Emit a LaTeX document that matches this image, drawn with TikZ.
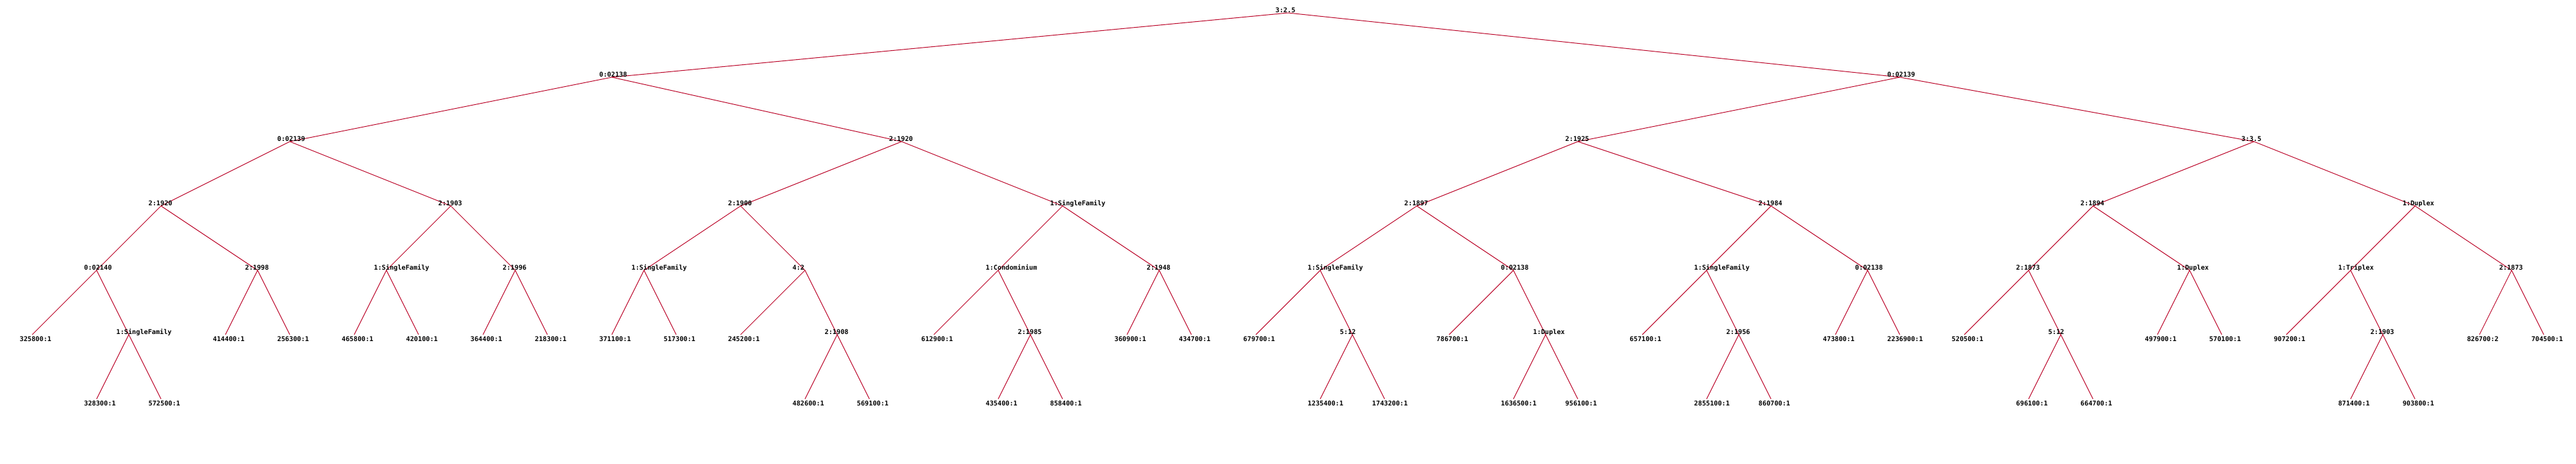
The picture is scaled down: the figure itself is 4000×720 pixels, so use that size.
\documentclass[tikz,border=0pt]{standalone}
\usepackage{fontspec}
\setmonofont{DejaVu Sans Mono}

\definecolor{branchred}{RGB}{185,0,36}
\def\treefont{\ttfamily\bfseries\fontsize{2.9pt}{3pt}\selectfont}

\tikzset{
    branch/.style={draw=branchred, line width=0.1mm},
    splitlabel/.style={anchor=base west, inner sep=0pt, xshift=-2mm, yshift=0.05mm, font=\treefont},
    leaflabel/.style={anchor=north west, inner sep=0pt, xshift=-2mm, yshift=-0.2mm, font=\treefont},
}

\begin{document}
\begin{tikzpicture}[x=0.1mm, y=-0.1mm]

    \useasboundingbox (0,0) rectangle (4000,720);

    % split points
    \coordinate (t) at (2000,20);
    \coordinate (tl) at (950,120);    \coordinate (tr) at (2950,120);
    \coordinate (tll) at (450,220);   \coordinate (tlr) at (1400,220);
    \coordinate (trl) at (2450,220);  \coordinate (trr) at (3500,220);
    \coordinate (tlll) at (250,320);  \coordinate (tllr) at (700,320);
    \coordinate (tlrl) at (1150,320); \coordinate (tlrr) at (1650,320);
    \coordinate (trll) at (2200,320); \coordinate (trlr) at (2750,320);
    \coordinate (trrl) at (3250,320); \coordinate (trrr) at (3750,320);
    \coordinate (tllll) at (150,420);  \coordinate (tlllr) at (400,420);
    \coordinate (tllrl) at (600,420);  \coordinate (tllrr) at (800,420);
    \coordinate (tlrll) at (1000,420); \coordinate (tlrlr) at (1250,420);
    \coordinate (tlrrl) at (1550,420); \coordinate (tlrrr) at (1800,420);
    \coordinate (trlll) at (2050,420); \coordinate (trllr) at (2350,420);
    \coordinate (trlrl) at (2650,420); \coordinate (trlrr) at (2900,420);
    \coordinate (trrll) at (3150,420); \coordinate (trrlr) at (3400,420);
    \coordinate (trrrl) at (3650,420); \coordinate (trrrr) at (3900,420);
    \coordinate (tllllr) at (200,520);  \coordinate (tlrlrr) at (1300,520);
    \coordinate (tlrrlr) at (1600,520); \coordinate (trlllr) at (2100,520);
    \coordinate (trllrr) at (2400,520); \coordinate (trlrlr) at (2700,520);
    \coordinate (trrllr) at (3200,520); \coordinate (trrrlr) at (3700,520);

    % leaves
    \coordinate (tlllll) at (50,520);    \coordinate (tllllrl) at (150,620);  \coordinate (tllllrr) at (250,620);
    \coordinate (tlllrl) at (350,520);   \coordinate (tlllrr) at (450,520);
    \coordinate (tllrll) at (550,520);   \coordinate (tllrlr) at (650,520);
    \coordinate (tllrrl) at (750,520);   \coordinate (tllrrr) at (850,520);
    \coordinate (tlrlll) at (950,520);   \coordinate (tlrllr) at (1050,520);
    \coordinate (tlrlrl) at (1150,520);  \coordinate (tlrlrrl) at (1250,620); \coordinate (tlrlrrr) at (1350,620);
    \coordinate (tlrrll) at (1450,520);  \coordinate (tlrrlrl) at (1550,620); \coordinate (tlrrlrr) at (1650,620);
    \coordinate (tlrrrl) at (1750,520);  \coordinate (tlrrrr) at (1850,520);
    \coordinate (trllll) at (1950,520);  \coordinate (trlllrl) at (2050,620); \coordinate (trlllrr) at (2150,620);
    \coordinate (trllrl) at (2250,520);  \coordinate (trllrrl) at (2350,620); \coordinate (trllrrr) at (2450,620);
    \coordinate (trlrll) at (2550,520);  \coordinate (trlrlrl) at (2650,620); \coordinate (trlrlrr) at (2750,620);
    \coordinate (trlrrl) at (2850,520);  \coordinate (trlrrr) at (2950,520);
    \coordinate (trrlll) at (3050,520);  \coordinate (trrllrl) at (3150,620); \coordinate (trrllrr) at (3250,620);
    \coordinate (trrlrl) at (3350,520);  \coordinate (trrlrr) at (3450,520);
    \coordinate (trrrll) at (3550,520);  \coordinate (trrrlrl) at (3650,620); \coordinate (trrrlrr) at (3750,620);
    \coordinate (trrrrl) at (3850,520);  \coordinate (trrrrr) at (3950,520);

    % branches
    \draw[branch] (t) -- (tl) (t) -- (tr);
    \draw[branch] (tl) -- (tll) (tl) -- (tlr) (tr) -- (trl) (tr) -- (trr);
    \draw[branch] (tll) -- (tlll) (tll) -- (tllr) (tlr) -- (tlrl) (tlr) -- (tlrr);
    \draw[branch] (trl) -- (trll) (trl) -- (trlr) (trr) -- (trrl) (trr) -- (trrr);
    \draw[branch] (tlll) -- (tllll) (tlll) -- (tlllr) (tllr) -- (tllrl) (tllr) -- (tllrr);
    \draw[branch] (tlrl) -- (tlrll) (tlrl) -- (tlrlr) (tlrr) -- (tlrrl) (tlrr) -- (tlrrr);
    \draw[branch] (trll) -- (trlll) (trll) -- (trllr) (trlr) -- (trlrl) (trlr) -- (trlrr);
    \draw[branch] (trrl) -- (trrll) (trrl) -- (trrlr) (trrr) -- (trrrl) (trrr) -- (trrrr);
    \draw[branch] (tllll) -- (tlllll) (tllll) -- (tllllr) (tllllr) -- (tllllrl) (tllllr) -- (tllllrr);
    \draw[branch] (tlllr) -- (tlllrl) (tlllr) -- (tlllrr) (tllrl) -- (tllrll) (tllrl) -- (tllrlr);
    \draw[branch] (tllrr) -- (tllrrl) (tllrr) -- (tllrrr) (tlrll) -- (tlrlll) (tlrll) -- (tlrllr);
    \draw[branch] (tlrlr) -- (tlrlrl) (tlrlr) -- (tlrlrr) (tlrlrr) -- (tlrlrrl) (tlrlrr) -- (tlrlrrr);
    \draw[branch] (tlrrl) -- (tlrrll) (tlrrl) -- (tlrrlr) (tlrrlr) -- (tlrrlrl) (tlrrlr) -- (tlrrlrr);
    \draw[branch] (tlrrr) -- (tlrrrl) (tlrrr) -- (tlrrrr);
    \draw[branch] (trlll) -- (trllll) (trlll) -- (trlllr) (trlllr) -- (trlllrl) (trlllr) -- (trlllrr);
    \draw[branch] (trllr) -- (trllrl) (trllr) -- (trllrr) (trllrr) -- (trllrrl) (trllrr) -- (trllrrr);
    \draw[branch] (trlrl) -- (trlrll) (trlrl) -- (trlrlr) (trlrlr) -- (trlrlrl) (trlrlr) -- (trlrlrr);
    \draw[branch] (trlrr) -- (trlrrl) (trlrr) -- (trlrrr);
    \draw[branch] (trrll) -- (trrlll) (trrll) -- (trrllr) (trrllr) -- (trrllrl) (trrllr) -- (trrllrr);
    \draw[branch] (trrlr) -- (trrlrl) (trrlr) -- (trrlrr);
    \draw[branch] (trrrl) -- (trrrll) (trrrl) -- (trrrlr) (trrrlr) -- (trrrlrl) (trrrlr) -- (trrrlrr);
    \draw[branch] (trrrr) -- (trrrrl) (trrrr) -- (trrrrr);

    % split labels
    \node[splitlabel] (t-txt) at (t) {3:2.5};
    \node[splitlabel] (tl-txt) at (tl) {0:02138};
    \node[splitlabel] (tr-txt) at (tr) {0:02139};
    \node[splitlabel] (tll-txt) at (tll) {0:02139};
    \node[splitlabel] (tlr-txt) at (tlr) {2:1920};
    \node[splitlabel] (trl-txt) at (trl) {2:1925};
    \node[splitlabel] (trr-txt) at (trr) {3:3.5};
    \node[splitlabel] (tlll-txt) at (tlll) {2:1920};
    \node[splitlabel] (tllr-txt) at (tllr) {2:1903};
    \node[splitlabel] (tlrl-txt) at (tlrl) {2:1900};
    \node[splitlabel] (tlrr-txt) at (tlrr) {1:SingleFamily};
    \node[splitlabel] (trll-txt) at (trll) {2:1897};
    \node[splitlabel] (trlr-txt) at (trlr) {2:1984};
    \node[splitlabel] (trrl-txt) at (trrl) {2:1894};
    \node[splitlabel] (trrr-txt) at (trrr) {1:Duplex};
    \node[splitlabel] (tllll-txt) at (tllll) {0:02140};
    \node[splitlabel] (tlllr-txt) at (tlllr) {2:1998};
    \node[splitlabel] (tllrl-txt) at (tllrl) {1:SingleFamily};
    \node[splitlabel] (tllrr-txt) at (tllrr) {2:1996};
    \node[splitlabel] (tlrll-txt) at (tlrll) {1:SingleFamily};
    \node[splitlabel] (tlrlr-txt) at (tlrlr) {4:2};
    \node[splitlabel] (tlrrl-txt) at (tlrrl) {1:Condominium};
    \node[splitlabel] (tlrrr-txt) at (tlrrr) {2:1948};
    \node[splitlabel] (trlll-txt) at (trlll) {1:SingleFamily};
    \node[splitlabel] (trllr-txt) at (trllr) {0:02138};
    \node[splitlabel] (trlrl-txt) at (trlrl) {1:SingleFamily};
    \node[splitlabel] (trlrr-txt) at (trlrr) {0:02138};
    \node[splitlabel] (trrll-txt) at (trrll) {2:1873};
    \node[splitlabel] (trrlr-txt) at (trrlr) {1:Duplex};
    \node[splitlabel] (trrrl-txt) at (trrrl) {1:Triplex};
    \node[splitlabel] (trrrr-txt) at (trrrr) {2:1873};
    \node[splitlabel] (tllllr-txt) at (tllllr) {1:SingleFamily};
    \node[splitlabel] (tlrlrr-txt) at (tlrlrr) {2:1908};
    \node[splitlabel] (tlrrlr-txt) at (tlrrlr) {2:1985};
    \node[splitlabel] (trlllr-txt) at (trlllr) {5:12};
    \node[splitlabel] (trllrr-txt) at (trllrr) {1:Duplex};
    \node[splitlabel] (trlrlr-txt) at (trlrlr) {2:1956};
    \node[splitlabel] (trrllr-txt) at (trrllr) {5:12};
    \node[splitlabel] (trrrlr-txt) at (trrrlr) {2:1903};

    % leaf labels
    \node[leaflabel] (tlllll-txt) at (tlllll) {325800:1};
    \node[leaflabel] (tllllrl-txt) at (tllllrl) {328300:1};
    \node[leaflabel] (tllllrr-txt) at (tllllrr) {572500:1};
    \node[leaflabel] (tlllrl-txt) at (tlllrl) {414400:1};
    \node[leaflabel] (tlllrr-txt) at (tlllrr) {256300:1};
    \node[leaflabel] (tllrll-txt) at (tllrll) {465800:1};
    \node[leaflabel] (tllrlr-txt) at (tllrlr) {420100:1};
    \node[leaflabel] (tllrrl-txt) at (tllrrl) {364400:1};
    \node[leaflabel] (tllrrr-txt) at (tllrrr) {218300:1};
    \node[leaflabel] (tlrlll-txt) at (tlrlll) {371100:1};
    \node[leaflabel] (tlrllr-txt) at (tlrllr) {517300:1};
    \node[leaflabel] (tlrlrl-txt) at (tlrlrl) {245200:1};
    \node[leaflabel] (tlrlrrl-txt) at (tlrlrrl) {482600:1};
    \node[leaflabel] (tlrlrrr-txt) at (tlrlrrr) {569100:1};
    \node[leaflabel] (tlrrll-txt) at (tlrrll) {612900:1};
    \node[leaflabel] (tlrrlrl-txt) at (tlrrlrl) {435400:1};
    \node[leaflabel] (tlrrlrr-txt) at (tlrrlrr) {858400:1};
    \node[leaflabel] (tlrrrl-txt) at (tlrrrl) {360900:1};
    \node[leaflabel] (tlrrrr-txt) at (tlrrrr) {434700:1};
    \node[leaflabel] (trllll-txt) at (trllll) {679700:1};
    \node[leaflabel] (trlllrl-txt) at (trlllrl) {1235400:1};
    \node[leaflabel] (trlllrr-txt) at (trlllrr) {1743200:1};
    \node[leaflabel] (trllrl-txt) at (trllrl) {786700:1};
    \node[leaflabel] (trllrrl-txt) at (trllrrl) {1636500:1};
    \node[leaflabel] (trllrrr-txt) at (trllrrr) {956100:1};
    \node[leaflabel] (trlrll-txt) at (trlrll) {657100:1};
    \node[leaflabel] (trlrlrl-txt) at (trlrlrl) {2855100:1};
    \node[leaflabel] (trlrlrr-txt) at (trlrlrr) {860700:1};
    \node[leaflabel] (trlrrl-txt) at (trlrrl) {473800:1};
    \node[leaflabel] (trlrrr-txt) at (trlrrr) {2236900:1};
    \node[leaflabel] (trrlll-txt) at (trrlll) {520500:1};
    \node[leaflabel] (trrllrl-txt) at (trrllrl) {696100:1};
    \node[leaflabel] (trrllrr-txt) at (trrllrr) {664700:1};
    \node[leaflabel] (trrlrl-txt) at (trrlrl) {497900:1};
    \node[leaflabel] (trrlrr-txt) at (trrlrr) {570100:1};
    \node[leaflabel] (trrrll-txt) at (trrrll) {907200:1};
    \node[leaflabel] (trrrlrl-txt) at (trrrlrl) {871400:1};
    \node[leaflabel] (trrrlrr-txt) at (trrrlrr) {903800:1};
    \node[leaflabel] (trrrrl-txt) at (trrrrl) {826700:2};
    \node[leaflabel] (trrrrr-txt) at (trrrrr) {704500:1};

\end{tikzpicture}
\end{document}
